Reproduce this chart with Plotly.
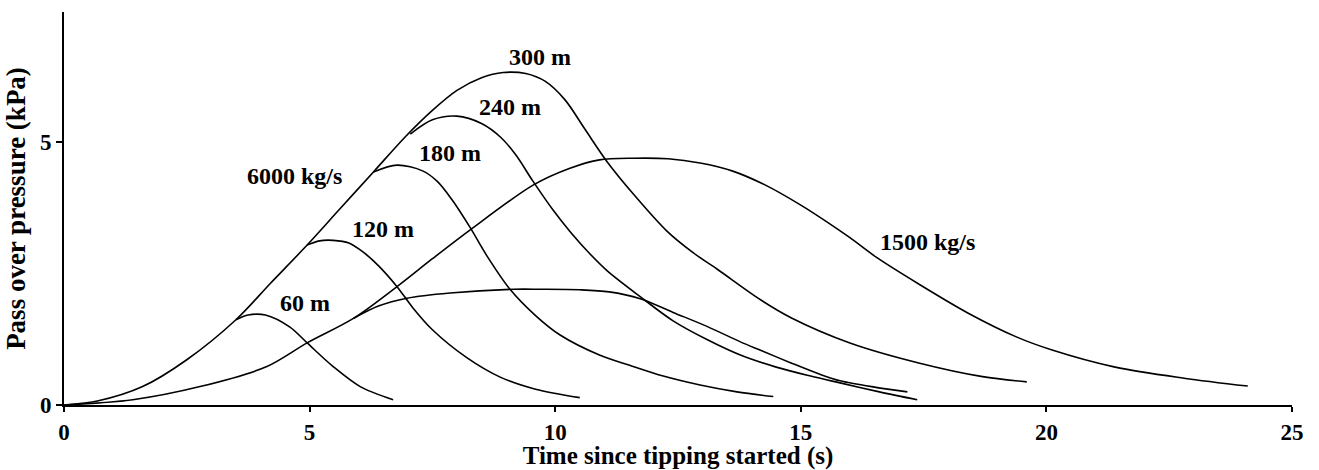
import plotly.graph_objects as go

# ---- data ----
# 6000 kg/s envelope continuing as the 300 m curve
x_6000_300 = [0, 0.7, 1.6, 2.5, 3.5, 4.2, 4.95, 5.6, 6.3, 6.95, 7.5, 8.0, 8.5, 8.94, 9.4, 9.8,
              10.2, 10.6, 11.06, 11.6, 12.28, 12.8, 13.3, 14.18, 14.8, 16.0, 17.4, 18.7, 19.6]
y_6000_300 = [0, 0.08, 0.35, 0.86, 1.62, 2.31, 3.04, 3.71, 4.43, 5.1, 5.6, 5.98, 6.22, 6.32, 6.3, 6.15,
              5.8, 5.25, 4.62, 4.0, 3.3, 2.9, 2.58, 2.0, 1.66, 1.18, 0.8, 0.54, 0.44]

x_6000_60 = [3.5, 3.75, 4.1, 4.6, 4.95, 5.48, 6.03, 6.7]
y_6000_60 = [1.62, 1.71, 1.71, 1.48, 1.18, 0.73, 0.35, 0.1]

x_6000_120 = [4.95, 5.2, 5.48, 5.8, 6.1, 6.4, 6.78, 7.1, 7.5, 8.2, 8.88, 9.6, 10.5]
y_6000_120 = [3.04, 3.12, 3.13, 3.08, 2.9, 2.65, 2.25, 1.85, 1.43, 0.9, 0.53, 0.3, 0.14]

x_6000_180 = [6.3, 6.78, 7.3, 7.6, 7.9, 8.27, 8.6, 9.08, 9.6, 10.1, 10.9, 11.5, 12.2, 12.95, 13.7, 14.44]
y_6000_180 = [4.43, 4.56, 4.45, 4.25, 3.9, 3.37, 2.85, 2.2, 1.7, 1.33, 0.95, 0.76, 0.55, 0.38, 0.25, 0.16]

x_6000_240 = [7.05, 7.5, 8.0, 8.5, 8.9, 9.2, 9.55, 9.96, 10.3, 10.7, 11.06, 11.73, 12.4, 13.1, 13.77,
              14.5, 15.2, 15.8, 16.6, 17.37]
y_6000_240 = [5.15, 5.42, 5.49, 5.35, 5.08, 4.75, 4.25, 3.7, 3.3, 2.88, 2.55, 2.06, 1.6, 1.24, 0.95,
              0.72, 0.55, 0.42, 0.25, 0.1]

# 1500 kg/s curves
x_1500_upper = [0, 1.4, 2.77, 4.13, 4.95, 5.9, 6.78, 7.5, 8.27, 9.55, 10.3, 10.9, 11.6, 12.3,
                12.95, 13.6, 14.3, 15.0, 15.5, 16.0, 16.55, 17.4, 18.4, 19.4, 20.1, 21.4, 22.8, 24.1]
y_1500_upper = [0, 0.1, 0.35, 0.73, 1.18, 1.65, 2.25, 2.78, 3.33, 4.18, 4.5, 4.66, 4.69, 4.68,
                4.6, 4.45, 4.17, 3.8, 3.5, 3.18, 2.8, 2.3, 1.75, 1.29, 1.05, 0.72, 0.51, 0.36]

x_1500_lower = [5.9, 6.4, 6.98, 7.86, 9.15, 9.69, 10.5, 11.1, 11.73, 12.4, 13.1, 13.77, 14.18,
                14.8, 15.4, 15.8, 16.5, 17.17]
y_1500_lower = [1.65, 1.88, 2.03, 2.13, 2.2, 2.2, 2.19, 2.15, 2.02, 1.76, 1.49, 1.2, 1.04,
                0.8, 0.58, 0.46, 0.34, 0.25]

# labels
label_text = ["300 m", "240 m", "180 m", "6000 kg/s", "120 m", "60 m", "1500 kg/s"]
label_x = [9.69, 9.08, 7.86, 4.70, 6.50, 4.91, 17.57]
label_y = [6.62, 5.67, 4.79, 4.35, 3.35, 1.94, 3.10]

x_ticks = [0, 5, 10, 15, 20, 25]
y_ticks = [0, 5]

FONT = "Liberation Serif"

fig = go.Figure()
curves = [
    (x_6000_300, y_6000_300), (x_6000_60, y_6000_60), (x_6000_120, y_6000_120),
    (x_6000_180, y_6000_180), (x_6000_240, y_6000_240),
    (x_1500_upper, y_1500_upper), (x_1500_lower, y_1500_lower),
]
for cx, cy in curves:
    fig.add_trace(go.Scatter(
        x=cx, y=cy, mode="lines",
        line=dict(color="black", width=1.6, shape="spline", smoothing=0.9),
        showlegend=False, hoverinfo="skip",
    ))

for t, lx, ly in zip(label_text, label_x, label_y):
    fig.add_annotation(x=lx, y=ly, text=t, showarrow=False,
                       font=dict(family=FONT, size=24, color="black", weight="bold"))

fig.update_layout(
    width=1319, height=470,
    margin=dict(l=64, r=27, t=12, b=65),
    paper_bgcolor="white", plot_bgcolor="white",
    showlegend=False,
)
fig.update_xaxes(
    range=[0, 25], tickvals=x_ticks, ticktext=[str(v) for v in x_ticks],
    ticks="outside", ticklen=5, tickwidth=1.5, tickcolor="black",
    showline=True, linecolor="black", linewidth=2,
    showgrid=False, zeroline=False, automargin=False,
    tickfont=dict(family=FONT, size=23, color="black", weight="bold"),
    title=dict(text="Time since tipping started (s)", standoff=4,
               font=dict(family=FONT, size=25, color="black", weight="bold")),
)
fig.update_yaxes(
    range=[0, 7.47], tickvals=y_ticks, ticktext=[str(v) for v in y_ticks],
    ticks="outside", ticklen=6, tickwidth=1.5, tickcolor="black",
    showline=True, linecolor="black", linewidth=2,
    showgrid=False, zeroline=False, automargin=False,
    tickfont=dict(family=FONT, size=23, color="black", weight="bold"),
    title=dict(text="Pass over pressure (kPa)", standoff=6,
               font=dict(family=FONT, size=27, color="black", weight="bold")),
)

fig.write_html("out.html", config={"displayModeBar": False},
               post_script="document.body.style.margin='0';")
